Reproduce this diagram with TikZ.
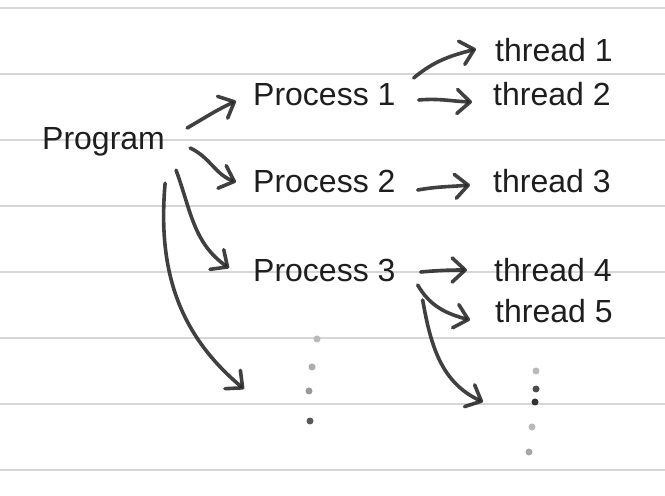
\documentclass[tikz,border=0pt]{standalone}
\usepackage{fontspec}
\setmainfont{Liberation Sans}
\usetikzlibrary{arrows.meta}
\definecolor{ruled}{HTML}{D6D6D6}
\definecolor{ink}{HTML}{262626}
\definecolor{txt}{HTML}{1E1E1E}
\tikzset{
  lbl/.style={anchor=base west, inner sep=0pt, text height=23pt, text depth=7pt,
    font=\fontsize{32}{38}\selectfont, text=txt},
  hand/.style={draw=ink, line width=3.6pt, line cap=round, line join=round, opacity=0.88,
    -{Straight Barb[round, length=13pt, width=24pt]}},
  ruleline/.style={draw=ruled, line width=1.6pt},
  dot/.style={circle, inner sep=0pt, minimum size=7pt}
}
\begin{document}
\begin{tikzpicture}[x=1pt,y=1pt]
\useasboundingbox[fill=white] (0,0) rectangle (665,496);
% ruled lines
\foreach \yy in {8,74,140,206,272,338,404,470}
  \draw[ruleline] (0,496-\yy) -- (665,496-\yy);
% labels
\node[lbl] (prog) at (42,346) {Program};
\node[lbl] (p1) at (253,390) {Process 1};
\node[lbl] (p2) at (253,303) {Process 2};
\node[lbl] (p3) at (253,214) {Process 3};
\node[lbl] (t1) at (495,434) {thread 1};
\node[lbl] (t2) at (493,390) {thread 2};
\node[lbl] (t3) at (493,303) {thread 3};
\node[lbl] (t4) at (494,214) {thread 4};
\node[lbl] (t5) at (495,173) {thread 5};
% dots
\node[dot, fill=gray!55] (l1) at (317,157) {};
\node[dot, fill=gray!65] (l2) at (312,129) {};
\node[dot, fill=gray!80] (l3) at (309,105) {};
\node[dot, fill=black!65] (l4) at (310,75) {};
\node[dot, fill=gray!55] (r1) at (536,125) {};
\node[dot, fill=black!70] (r2) at (536,107) {};
\node[dot, fill=black!80] (r3) at (535,94) {};
\node[dot, fill=gray!55] (r4) at (532,69) {};
\node[dot, fill=gray!70] (r5) at (529,44) {};
\coordinate (dL) at (244,107);
\coordinate (dR) at (483,94);
% arrows from Program
\draw[hand] ([shift={(22pt,14pt)}]prog.east) to[out=30,in=205] ([shift={(-17pt,-3pt)}]p1.west);
\draw[hand] ([shift={(25pt,-6pt)}]prog.east) to[out=-25,in=160] ([shift={(-17pt,3pt)}]p2.west);
\draw[hand] ([shift={(11pt,-13pt)}]prog.south east) to[out=-70,in=145] ([shift={(-24pt,6pt)}]p3.west);
\draw[hand] ([shift={(0pt,-26pt)}]prog.south east) to[out=-95,in=140] (dL);
% arrows from processes
\draw[hand] ([shift={(18pt,20pt)}]p1.east) to[out=40,in=195] ([shift={(-19pt,5pt)}]t1.west);
\draw[hand] ([shift={(23pt,-2pt)}]p1.east) to[out=5,in=178] ([shift={(-21pt,-4pt)}]t2.west);
\draw[hand] ([shift={(22pt,-5pt)}]p2.east) to[out=10,in=185] ([shift={(-23pt,0pt)}]t3.west);
\draw[hand] ([shift={(25pt,2pt)}]p3.east) to[out=5,in=180] ([shift={(-27pt,4pt)}]t4.west);
\draw[hand] ([shift={(22pt,-11pt)}]p3.east) to[out=-60,in=165] ([shift={(-25pt,-5pt)}]t5.west);
\draw[hand] ([shift={(27pt,-26pt)}]p3.east) to[out=-80,in=155] (dR);
\end{tikzpicture}
\end{document}
